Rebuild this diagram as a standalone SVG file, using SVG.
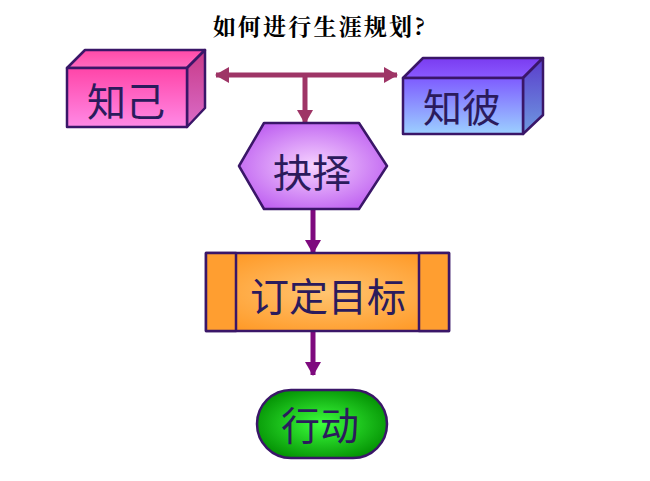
<svg xmlns="http://www.w3.org/2000/svg" width="650" height="481" viewBox="0 0 650 481">
<defs>
<style>
.lbl{font-family:"Noto Sans CJK SC","Noto Sans",sans-serif;font-size:39px;fill:#2B1B5C;text-anchor:middle}
.ttl{font-family:"Noto Serif CJK SC","Noto Sans CJK SC",serif;font-size:23px;font-weight:bold;fill:#000;text-anchor:middle;letter-spacing:2.2px}
.edge{stroke:#3A1668;stroke-width:2.5;stroke-linejoin:round}
.a1{stroke:#9E3566;stroke-width:5;fill:none}
.a2{stroke:#7E0A7E;stroke-width:5;fill:none}
</style>
<linearGradient id="pinkFront" x1="0" y1="0" x2="0" y2="1"><stop offset="0" stop-color="#FF45A8"/><stop offset="1" stop-color="#FF8AE6"/></linearGradient>
<linearGradient id="pinkTop" x1="0" y1="0" x2="0" y2="1"><stop offset="0" stop-color="#FF4AA8"/><stop offset="1" stop-color="#FF6AC0"/></linearGradient>
<linearGradient id="pinkSide" x1="0" y1="0" x2="0" y2="1"><stop offset="0" stop-color="#C83A88"/><stop offset="1" stop-color="#DA6CC8"/></linearGradient>
<linearGradient id="blueFront" x1="0" y1="0" x2="0" y2="1"><stop offset="0" stop-color="#7E5CFF"/><stop offset="1" stop-color="#9CD0FF"/></linearGradient>
<linearGradient id="blueTop" x1="0" y1="0" x2="0" y2="1"><stop offset="0" stop-color="#7A3CF0"/><stop offset="1" stop-color="#8A5AFF"/></linearGradient>
<linearGradient id="blueSide" x1="0" y1="0" x2="0" y2="1"><stop offset="0" stop-color="#5A3CCC"/><stop offset="1" stop-color="#6E9AE0"/></linearGradient>
<radialGradient id="hexG" cx="0.5" cy="0.5" r="0.6"><stop offset="0" stop-color="#F6D2FF"/><stop offset="1" stop-color="#BC5CF0"/></radialGradient>
<radialGradient id="orgG" cx="0.5" cy="0.5" r="0.6"><stop offset="0" stop-color="#FFC470"/><stop offset="1" stop-color="#FF9A28"/></radialGradient>
<radialGradient id="grnG" cx="0.5" cy="0.5" r="0.6"><stop offset="0" stop-color="#3CFF3C"/><stop offset="1" stop-color="#008A00"/></radialGradient>
<marker id="h1" markerUnits="userSpaceOnUse" markerWidth="14" markerHeight="16" refX="13" refY="8" orient="auto-start-reverse"><path d="M0,0 L14,8 L0,16 z" fill="#9E3566"/></marker>
<marker id="h2" markerUnits="userSpaceOnUse" markerWidth="14" markerHeight="16" refX="13" refY="8" orient="auto"><path d="M0,0 L14,8 L0,16 z" fill="#7E0A7E"/></marker>
</defs>
<rect width="650" height="481" fill="#fff"/>
<text class="ttl" x="320" y="35">如何进行生涯规划?</text>
<g id="connectors">
<line class="a1" x1="216" y1="75" x2="397" y2="75" marker-start="url(#h1)" marker-end="url(#h1)"/>
<line class="a1" x1="305" y1="75" x2="305" y2="123" marker-end="url(#h1)"/>
<line class="a2" x1="313" y1="209" x2="313" y2="253" marker-end="url(#h2)"/>
<line class="a2" x1="313" y1="331" x2="313" y2="375" marker-end="url(#h2)"/>
</g>
<g id="zhiji">
<polygon class="edge" points="67,68 85,50 205,50 187,68" fill="url(#pinkTop)"/>
<polygon class="edge" points="187,68 205,50 205,108 187,127" fill="url(#pinkSide)"/>
<rect class="edge" x="67" y="68" width="120" height="59" fill="url(#pinkFront)"/>
<text class="lbl" x="126" y="116">知己</text>
</g>
<g id="zhibi">
<polygon class="edge" points="403,78 423,58 543,58 523,78" fill="url(#blueTop)"/>
<polygon class="edge" points="523,78 543,58 543,115 523,134" fill="url(#blueSide)"/>
<rect class="edge" x="403" y="78" width="120" height="56" fill="url(#blueFront)"/>
<text class="lbl" x="462" y="122">知彼</text>
</g>
<g id="jueze">
<polygon class="edge" points="239,166 264,123 359,123 387,166 359,209 264,209" fill="url(#hexG)"/>
<text class="lbl" x="312" y="187">抉择</text>
</g>
<g id="mubiao">
<rect class="edge" x="206" y="253" width="243" height="78" fill="url(#orgG)"/>
<rect class="edge" x="206" y="253" width="30" height="78" fill="#FF9E30"/>
<rect class="edge" x="419" y="253" width="30" height="78" fill="#FF9E30"/>
<text class="lbl" x="328" y="311">订定目标</text>
</g>
<g id="xingdong">
<rect class="edge" x="257" y="390" width="130" height="68" rx="34" fill="url(#grnG)"/>
<text class="lbl" x="320" y="440">行动</text>
</g>
</svg>
